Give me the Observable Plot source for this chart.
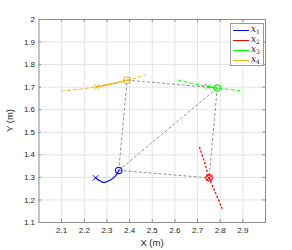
<!DOCTYPE html>
<html><head><meta charset="utf-8">
<script src="https://cdn.jsdelivr.net/npm/d3@7"></script>
<script src="https://cdn.jsdelivr.net/npm/@observablehq/plot@0.6"></script>
<style>
body{margin:0;background:#fff;font-family:"Liberation Sans",Arial,sans-serif;}
#wrap{position:relative;width:292px;height:250px;}
#legend{position:absolute;left:230px;top:23px;width:34px;height:43px;border:1px solid #999;background:#fff;box-sizing:border-box;}
.row{position:absolute;left:1px;height:10px;width:32px;}
.row span.ln{position:absolute;left:1px;top:5px;width:16px;height:1px;}
.row span.lb{position:absolute;left:19px;top:-1px;font-family:"DejaVu Serif","Liberation Serif",serif;font-style:italic;font-size:9px;line-height:10px;color:#222;}
.row sub{font-size:6px;font-style:normal;vertical-align:-2px;line-height:0;}
</style></head>
<body><div id="wrap"><div id="chart"></div><div id="legend"></div></div>
<script>
const xTicks = [2.1,2.2,2.3,2.4,2.5,2.6,2.7,2.8,2.9];
const yTicks = [1.1,1.2,1.3,1.4,1.5,1.6,1.7,1.8,1.9,2.0];
const seriesNames = ["x1","x2","x3","x4"];
const seriesColors = ["#0000ff","#ff0000","#00ff00","#edb120"];
// x1 trajectory (solid)
const x1X = [2.25,2.26,2.27,2.28,2.29,2.30,2.315,2.33,2.342,2.352];
const x1Y = [1.298,1.291,1.284,1.279,1.278,1.281,1.288,1.299,1.312,1.331];
// x2 predicted (dotted)
const x2X = [2.709,2.73,2.751,2.78,2.808];
const x2Y = [1.433,1.37,1.298,1.23,1.163];
// x3 predicted (dashed) and past (solid)
const x3X = [2.614,2.68,2.745,2.787,2.84,2.897];
const x3Y = [1.731,1.716,1.703,1.696,1.690,1.683];
const x3PastX = [2.745,2.765,2.787];
const x3PastY = [1.703,1.699,1.696];
// x4 predicted (dashed) and past (solid)
const x4X = [2.10,2.18,2.254,2.32,2.389,2.43,2.47];
const x4Y = [1.683,1.691,1.702,1.714,1.731,1.742,1.755];
const x4PastX = [2.254,2.32,2.389];
const x4PastY = [1.702,1.714,1.731];
// start (cross) and current (circle) positions
const startX = [2.25,2.751,2.745,2.254];
const startY = [1.298,1.298,1.702,1.702];
const curX = [2.352,2.751,2.787,2.389];
const curY = [1.331,1.298,1.696,1.731];
// communication links (pairs of agent indices)
const links = [[0,3],[0,2],[0,1],[3,2],[2,1]];

const pts = (xs, ys) => xs.map((x,i)=>({x, y: ys[i]}));
const linkData = links.map(([a,b])=>({x1:curX[a],y1:curY[a],x2:curX[b],y2:curY[b]}));
const agents = seriesNames.map((n,i)=>({n, c:seriesColors[i], sx:startX[i], sy:startY[i], cx:curX[i], cy:curY[i]}));

const chart = Plot.plot({
  width: 292, height: 250,
  marginLeft: 38.5, marginRight: 27, marginTop: 19, marginBottom: 28,
  style: {fontFamily: "Liberation Sans, Arial, sans-serif", fontSize: "8px", color: "#262626"},
  x: {domain: [2, 3], label: null},
  y: {domain: [1.1, 2], label: null},
  marks: [
    Plot.gridX(xTicks, {stroke: "#e3e3e3", strokeOpacity: 1}),
    Plot.gridY(yTicks.slice(1, -1), {stroke: "#e3e3e3", strokeOpacity: 1}),
    Plot.frame({stroke: "#8c8c8c"}),
    Plot.tickX(xTicks, {x: d=>d, stroke: "#8c8c8c", insetTop: 200}),
    Plot.tickX(xTicks, {x: d=>d, stroke: "#8c8c8c", insetBottom: 200}),
    Plot.tickY(yTicks, {y: d=>d, stroke: "#8c8c8c", insetRight: 224}),
    Plot.tickY(yTicks, {y: d=>d, stroke: "#8c8c8c", insetLeft: 224}),
    Plot.axisX(xTicks, {tickSize: 0, tickPadding: 5, tickFormat: d=>d.toFixed(1), fill: "#262626"}),
    Plot.axisY(yTicks, {tickSize: 0, tickPadding: 4, tickFormat: d=>d===2?"2":d.toFixed(1), fill: "#262626"}),
    Plot.link(linkData, {x1:"x1", y1:"y1", x2:"x2", y2:"y2", stroke: "#777", strokeWidth: 0.8, strokeDasharray: "3,2"}),
    Plot.line(pts(x4X,x4Y), {x:"x", y:"y", stroke: seriesColors[3], strokeWidth: 1, strokeDasharray: "3,3", curve: "catmull-rom"}),
    Plot.line(pts(x3X,x3Y), {x:"x", y:"y", stroke: seriesColors[2], strokeWidth: 1, strokeDasharray: "3,3", curve: "catmull-rom"}),
    Plot.line(pts(x2X,x2Y), {x:"x", y:"y", stroke: seriesColors[1], strokeWidth: 1.3, strokeDasharray: "1.3,2.7", curve: "catmull-rom"}),
    Plot.line(pts(x4PastX,x4PastY), {x:"x", y:"y", stroke: seriesColors[3], strokeWidth: 1.3, curve: "catmull-rom"}),
    Plot.line(pts(x3PastX,x3PastY), {x:"x", y:"y", stroke: seriesColors[2], strokeWidth: 1.3, curve: "catmull-rom"}),
    Plot.line(pts(x1X,x1Y), {x:"x", y:"y", stroke: seriesColors[0], strokeWidth: 1.2, curve: "catmull-rom"}),
    Plot.dot(agents, {x:"sx", y:"sy", stroke:"c", symbol:"times", r: 2.5, strokeWidth: 1}),
    Plot.dot(agents, {x:"cx", y:"cy", stroke:"c", symbol:"circle", r: 3.2, strokeWidth: 1.1})
  ]
});
document.getElementById("chart").appendChild(chart);
const svg = d3.select(chart);
svg.append("text").attr("x", 38.5 + 227/2).attr("y", 246).attr("text-anchor","middle")
  .attr("font-size", 9.5).attr("fill","#262626").text("X (m)");
svg.append("text").attr("transform", `translate(13,${19+203/2}) rotate(-90)`).attr("text-anchor","middle")
  .attr("font-size", 9.5).attr("fill","#262626").text("Y (m)");

const lg = document.getElementById("legend");
seriesNames.forEach((n,i)=>{
  const r = document.createElement("div");
  r.className = "row";
  r.style.top = (1 + i*10) + "px";
  r.innerHTML = `<span class="ln" style="background:${seriesColors[i]}"></span><span class="lb">x<sub>${n.slice(1)}</sub></span>`;
  lg.appendChild(r);
});
</script></body></html>
